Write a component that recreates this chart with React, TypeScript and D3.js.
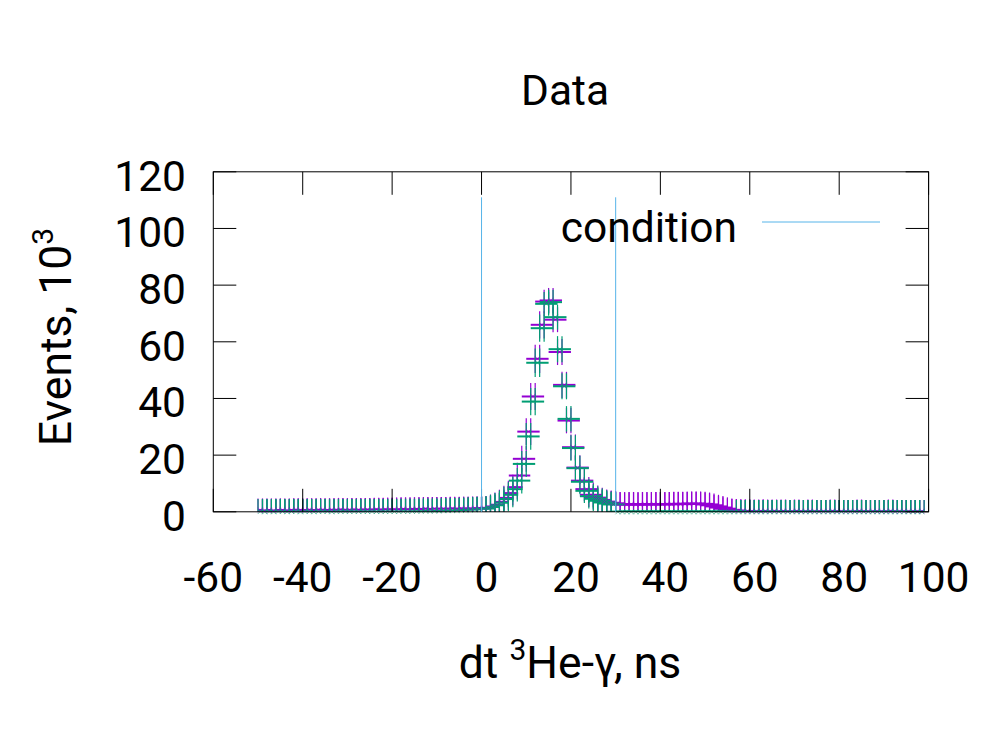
import React from "react";
import * as d3 from "d3";

// ---- data ----
const BIN_FIRST_CENTER = -49.5;
const BIN_WIDTH = 1;

const purpleValues = [
  0.6,0.5,0.6,0.5,0.6,0.6,0.5,0.6,0.7,0.6,
  0.6,0.7,0.6,0.7,0.7,0.6,0.7,0.7,0.8,0.7,
  0.7,0.8,0.7,0.8,0.8,0.8,0.9,0.8,0.9,0.9,
  0.9,0.9,1.0,0.9,1.0,1.0,1.0,1.1,1.0,1.1,
  1.1,1.1,1.1,1.2,1.1,1.2,1.2,1.2,1.3,1.3,
  1.3,1.4,1.9,2.5,3.5,4.9,6.6,8.7,12.8,18.7,
  28.3,40.7,54.0,66.0,74.2,74.6,67.8,56.4,44.8,32.2,
  22.8,15.6,11.0,8.0,6.0,5.0,4.2,3.6,3.2,3.0,
  2.7,2.6,2.6,2.7,2.6,2.6,2.7,2.6,2.7,2.7,
  2.6,2.7,2.7,2.8,2.7,2.8,2.8,2.9,2.8,2.8,
  2.6,2.3,1.9,1.5,1.1,0.7,0.5,
  0.4,0.3,0.3,0.3,0.2,0.3,0.3,0.2,0.3,0.2,
  0.3,0.2,0.2,0.3,0.2,0.2,0.3,0.2,0.2,0.2,
  0.2,0.3,0.2,0.2,0.2,0.2,0.2,0.3,0.2,0.2,
  0.2,0.2,0.2,0.2,0.3,0.2,0.2,0.2,0.2,0.2,
  0.2,0.2,
];

const purpleErrors = [
  4.1,4.1,4.1,4.1,4.1,4.1,4.1,4.1,4.1,4.1,
  4.1,4.1,4.1,4.1,4.1,4.1,4.1,4.1,4.1,4.1,
  4.1,4.1,4.1,4.1,4.1,4.1,4.1,4.1,4.1,4.1,
  4.1,4.1,4.1,4.1,4.1,4.1,4.1,4.1,4.1,4.1,
  4.1,4.1,4.1,4.1,4.1,4.1,4.1,4.1,4.1,4.1,
  4.2,4.2,4.2,4.3,4.3,4.3,4.4,4.4,4.5,4.6,
  4.7,4.8,5.0,4.8,4.2,4.4,4.4,4.6,4.6,4.5,
  4.5,4.4,4.4,4.3,4.3,4.3,4.3,4.3,4.3,4.3,
  4.3,4.3,4.3,4.3,4.3,4.3,4.3,4.3,4.3,4.3,
  4.3,4.3,4.3,4.3,4.3,4.3,4.3,4.3,4.3,4.3,
  4.2,4.2,4.1,4.1,4.0,4.0,4.0,
  4.0,4.0,4.0,4.0,4.0,4.0,4.0,4.0,4.0,4.0,
  4.0,4.0,4.0,4.0,4.0,4.0,4.0,4.0,4.0,4.0,
  4.0,4.0,4.0,4.0,4.0,4.0,4.0,4.0,4.0,4.0,
  4.0,4.0,4.0,4.0,4.0,4.0,4.0,4.0,4.0,4.0,
  4.0,4.0,
];

const greenValues = [
  0.1,0.0,0.1,0.0,0.1,0.1,0.0,0.1,0.1,0.0,
  0.1,0.1,0.0,0.1,0.1,0.1,0.0,0.1,0.1,0.1,
  0.1,0.1,0.1,0.1,0.1,0.1,0.1,0.1,0.1,0.1,
  0.1,0.1,0.2,0.1,0.2,0.2,0.2,0.3,0.2,0.3,
  0.3,0.4,0.4,0.5,0.5,0.6,0.6,0.7,0.8,0.9,
  1.1,1.2,1.7,2.3,3.2,4.5,6.0,8.0,11.0,16.9,
  26.6,38.9,52.6,64.8,73.4,74.0,68.7,57.4,44.3,32.8,
  22.5,15.4,10.6,7.4,5.5,4.6,3.9,3.3,2.9,2.6,
  0,0,0,0,0,0,0,0,0,0,
  0,0,0,0,0,0,0,0,0,0,
  0,0,0,0,0,0,0,
  0,0,0,0,0,0,0,0,0,0,
  0,0,0,0,0,0,0,0,0,0,
  0,0,0,0,0,0,0,0,0,0,
  0,0,0,0,0,0,0,0,0,0,
  0,0,
];

const greenErrors = [
  4.4,4.4,4.4,4.4,4.4,4.4,4.4,4.4,4.4,4.4,
  4.4,4.4,4.4,4.4,4.4,4.4,4.4,4.4,4.4,4.4,
  4.4,4.4,4.4,4.4,4.4,4.4,4.4,4.4,4.4,4.4,
  4.4,4.4,4.4,4.4,4.4,4.4,4.4,4.4,4.4,4.4,
  4.4,4.4,4.4,4.4,4.4,4.4,4.4,4.4,4.4,4.4,
  4.3,4.3,4.3,4.3,4.3,4.3,4.4,4.4,4.5,4.6,
  4.7,4.8,5.0,4.8,4.2,4.4,4.4,4.6,4.6,4.5,
  4.5,4.4,4.4,4.3,4.3,4.3,4.3,4.3,4.3,4.3,
  0,0,0,0,0,0,0,0,0,0,
  0,0,0,0,0,0,0,0,0,0,
  0,0,0,0,0,0,0,
  4.2,4.2,4.2,4.2,4.2,4.2,4.2,4.2,4.2,4.2,
  4.2,4.2,4.2,4.2,4.2,4.2,4.2,4.2,4.2,4.2,
  4.2,4.2,4.2,4.2,4.2,4.2,4.2,4.2,4.2,4.2,
  4.2,4.2,4.2,4.2,4.2,4.2,4.2,4.2,4.2,4.2,
  4.2,4.2,
];

// horizontal error half-widths (ns), same for both series
const xHalfWidths = [
  0.5,0.5,0.5,0.5,0.5,0.5,0.5,0.5,0.5,0.5,
  0.5,0.5,0.5,0.5,0.5,0.5,0.5,0.5,0.5,0.5,
  0.5,0.5,0.5,0.5,0.5,0.5,0.5,0.5,0.5,0.5,
  0.5,0.5,0.5,0.5,0.5,0.5,0.5,0.5,0.5,0.5,
  0.5,0.5,0.5,0.5,0.5,0.5,0.5,0.5,0.5,0.5,
  1.2,1.3,1.4,1.5,1.6,1.6,1.7,1.7,2.4,2.5,
  2.5,2.5,2.5,2.5,2.5,2.5,2.5,2.5,2.5,2.5,
  2.5,2.5,2.5,2.5,2.5,2.5,2.5,2.5,2.5,2.5,
  2.5,2.5,2.5,2.5,2.5,2.5,2.5,2.5,2.5,2.5,
  2.5,2.5,2.5,2.5,2.5,2.5,2.5,2.5,2.5,2.5,
  2.5,2.5,2.5,2.5,2.5,2.5,2.5,
  0.5,0.5,0.5,0.5,0.5,0.5,0.5,0.5,0.5,0.5,
  0.5,0.5,0.5,0.5,0.5,0.5,0.5,0.5,0.5,0.5,
  0.5,0.5,0.5,0.5,0.5,0.5,0.5,0.5,0.5,0.5,
  0.5,0.5,0.5,0.5,0.5,0.5,0.5,0.5,0.5,0.5,
  0.5,0.5,
];

const conditionX = [0, 30];
const conditionHeight = 111;

const xTicks = [-60, -40, -20, 0, 20, 40, 60, 80, 100];
const yTicks = [0, 20, 40, 60, 80, 100, 120];

const TITLE = "Data";
const LEGEND_LABEL = "condition";

// ---- layout ----
const W = 1000;
const H = 750;
const PL = 213.3;
const PR = 928.6;
const PT = 171.8;
const PB = 511.8;
const TICK = 23;
const FONT = "Roboto, 'Noto Sans', sans-serif";
const FS = 42.5;
const FS_LABEL = 44.5;

const PURPLE = "#9400d3";
const GREEN = "#009e73";
const BLUE = "#56b4e9";

type Pt = { x: number; y: number; e: number; w: number };

function buildSeries(values: number[], errors: number[]): Pt[] {
  return values.map((v, i) => ({
    x: BIN_FIRST_CENTER + i * BIN_WIDTH,
    y: v,
    e: errors[i],
    w: xHalfWidths[i],
  }));
}

export default function App() {
  const x = d3.scaleLinear().domain([-60, 100]).range([PL, PR]);
  const y = d3.scaleLinear().domain([0, 120]).range([PB, PT]);

  const purple = buildSeries(purpleValues, purpleErrors);
  const green = buildSeries(greenValues, greenErrors);

  const renderSeries = (pts: Pt[], color: string, key: string) =>
    pts.map((p, i) => {
      const x0 = x(p.x - BIN_WIDTH / 2);
      const x1 = x(p.x + BIN_WIDTH / 2);
      const yt = y(p.y + p.e);
      const yb = y(p.y - p.e);
      const yc = y(p.y);
      return (
        <g key={key + "b" + i}>
          <line x1={x(p.x - p.w)} x2={x(p.x + p.w)} y1={yc} y2={yc} stroke={color} strokeWidth={2} />
          {p.e > 0 && (
            <>
              <line x1={x0} x2={x0} y1={yt} y2={yb} stroke={color} strokeWidth={1.2} />
              <line x1={x1} x2={x1} y1={yt} y2={yb} stroke={color} strokeWidth={1.2} />
            </>
          )}
        </g>
      );
    });

  const renderMarkers = (pts: Pt[], color: string, key: string) =>
    pts.map((p, i) => {
      const cx = x(p.x);
      const cy = y(p.y);
      const s = 2.5;
      return (
        <path
          key={key + "m" + i}
          d={`M${cx - s},${cy - s}L${cx + s},${cy + s}M${cx - s},${cy + s}L${cx + s},${cy - s}`}
          stroke={color}
          strokeWidth={1}
          opacity={0.55}
          fill="none"
        />
      );
    });

  const legendY = 222;

  return (
    <svg
      width={W}
      height={H}
      viewBox={`0 0 ${W} ${H}`}
      style={{ position: "absolute", left: 0, top: 0, display: "block", background: "#fff" }}
      fontFamily={FONT}
    >
      <rect x={0} y={0} width={W} height={H} fill="#fff" />
      <defs>
        <clipPath id="plotClip">
          <rect x={PL} y={PT} width={PR - PL} height={PB - PT} />
        </clipPath>
      </defs>

      {/* title */}
      <text x={565} y={105} textAnchor="middle" fontSize={FS} fill="#000">
        {TITLE}
      </text>

      {/* data */}
      <g clipPath="url(#plotClip)">
        {renderSeries(purple, PURPLE, "p")}
        {renderSeries(green, GREEN, "g")}
      </g>
      <g>
        {renderMarkers(purple, PURPLE, "p")}
        {renderMarkers(green, GREEN, "g")}
      </g>

      {/* ticks and border */}
      <g stroke="#000" strokeWidth={1}>
        {xTicks.map((t) => (
          <g key={"xt" + t}>
            <line x1={x(t)} x2={x(t)} y1={PB} y2={PB - TICK} />
            <line x1={x(t)} x2={x(t)} y1={PT} y2={PT + TICK} />
          </g>
        ))}
        {yTicks.map((t) => (
          <g key={"yt" + t}>
            <line x1={PL} x2={PL + TICK} y1={y(t)} y2={y(t)} />
            <line x1={PR} x2={PR - TICK} y1={y(t)} y2={y(t)} />
          </g>
        ))}
        <rect x={PL} y={PT} width={PR - PL} height={PB - PT} fill="none" />
      </g>

      {/* condition lines */}
      {conditionX.map((c) => (
        <line key={"c" + c} x1={x(c)} x2={x(c)} y1={y(0)} y2={y(conditionHeight)} stroke={BLUE} strokeWidth={1} />
      ))}

      {/* tick labels */}
      {xTicks.map((t) => (
        <text key={"xl" + t} x={x(t) + (t >= 0 ? 5 : 0)} y={592} textAnchor="middle" fontSize={FS} fill="#000">
          {t}
        </text>
      ))}
      {yTicks.map((t) => (
        <text key={"yl" + t} x={186} y={y(t) + 19} textAnchor="end" fontSize={FS} fill="#000">
          {t}
        </text>
      ))}

      {/* legend */}
      <text x={737} y={legendY + 20} textAnchor="end" fontSize={FS} fill="#000">
        {LEGEND_LABEL}
      </text>
      <line x1={762} x2={880} y1={legendY} y2={legendY} stroke={BLUE} strokeWidth={1} />

      {/* axis labels */}
      <text x={570} y={678} textAnchor="middle" fontSize={FS_LABEL} fill="#000">
        <tspan>dt </tspan>
        <tspan dy={-18} fontSize={30}>3</tspan>
        <tspan dy={18}>He-γ, ns</tspan>
      </text>
      <text transform={`translate(71, 337) rotate(-90)`} textAnchor="middle" fontSize={FS_LABEL} fill="#000">
        <tspan>Events, 10</tspan>
        <tspan dy={-18} fontSize={30}>3</tspan>
      </text>
    </svg>
  );
}
